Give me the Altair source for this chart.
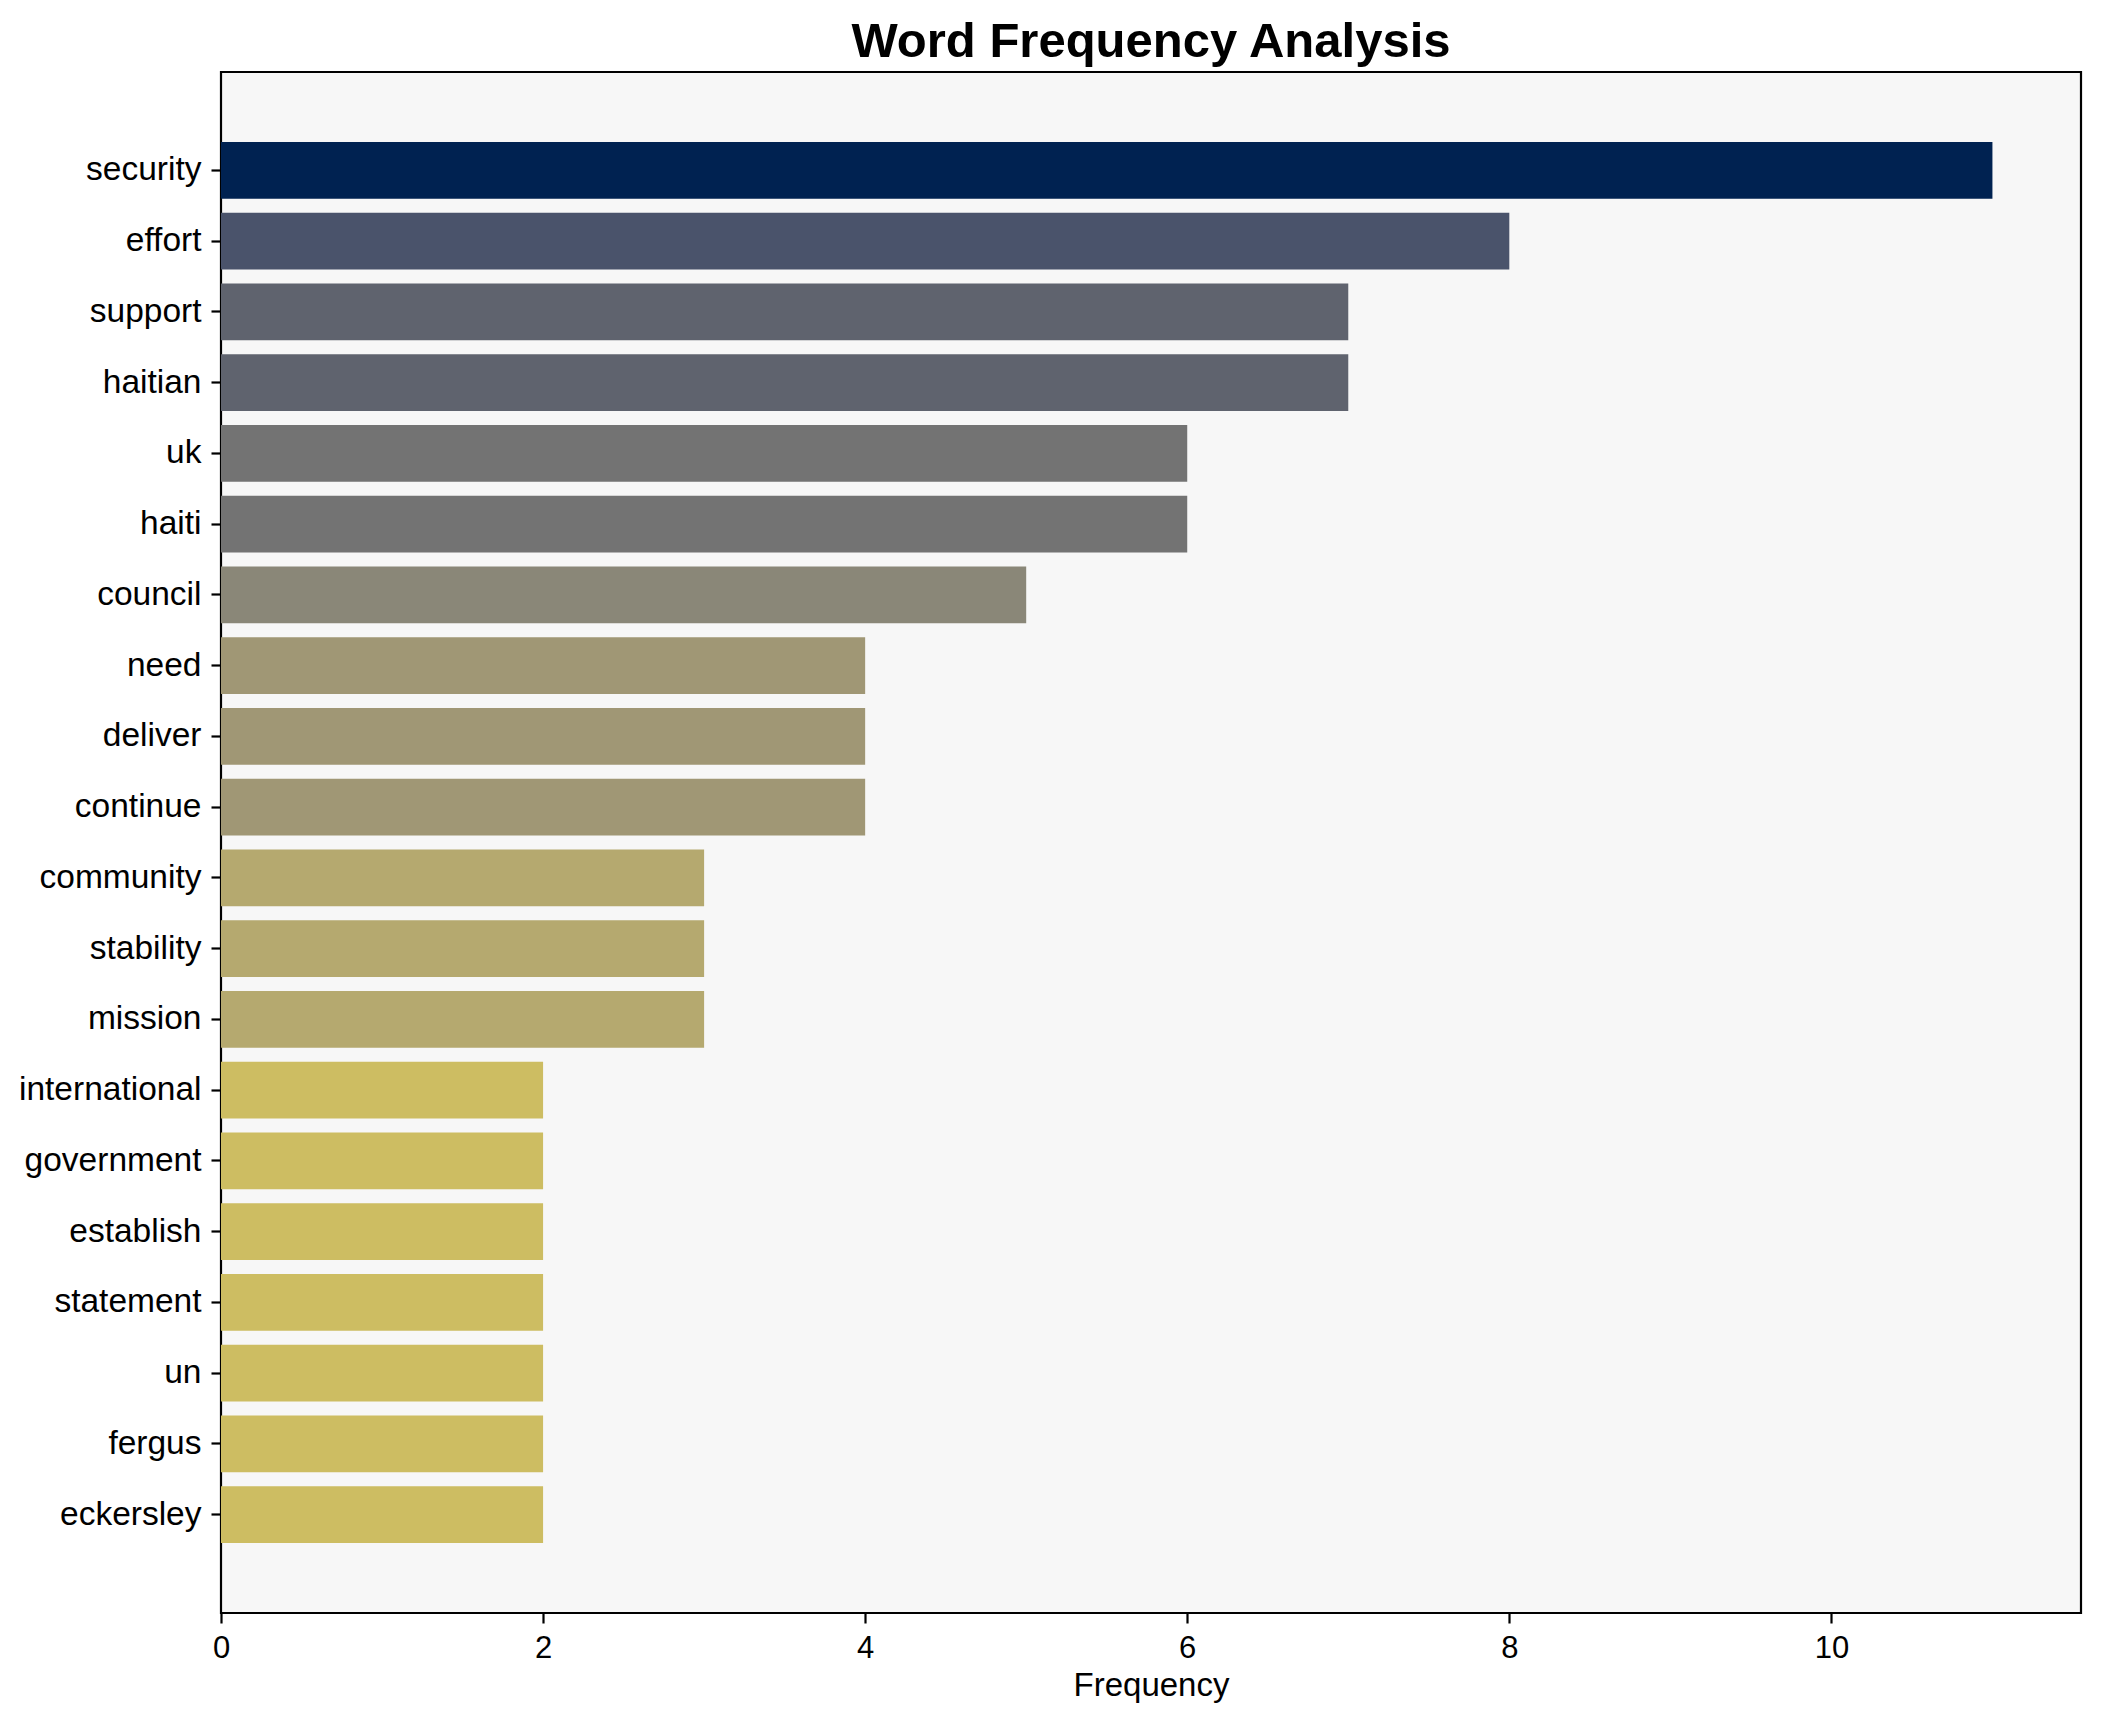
import altair as alt
import pandas as pd

words = ["security", "effort", "support", "haitian", "uk", "haiti", "council",
         "need", "deliver", "continue", "community", "stability", "mission",
         "international", "government", "establish", "statement", "un",
         "fergus", "eckersley"]
freqs = [11, 8, 7, 7, 6, 6, 5, 4, 4, 4, 3, 3, 3, 2, 2, 2, 2, 2, 2, 2]

color_domain = [11, 8, 7, 6, 5, 4, 3, 2]
color_range = ["#002251", "#4a536b", "#5f636e", "#737373", "#8a8778",
               "#a09775", "#b5a96f", "#cdbd62"]

df = pd.DataFrame({"word": words, "freq": freqs})

FONT = "Liberation Sans"

chart = alt.Chart(df).mark_bar().encode(
    y=alt.Y("word:N", sort=words, title=None,
            scale=alt.Scale(paddingInner=0.2, paddingOuter=0.99),
            axis=alt.Axis(labelFontSize=33.5, labelFont=FONT, labelColor="black",
                          tickSize=10, tickWidth=2.2, tickColor="black",
                          labelPadding=10, labelLimit=400,
                          domain=False, grid=False)),
    x=alt.X("freq:Q", title="Frequency",
            scale=alt.Scale(domain=[0, 11.55], nice=False, zero=True),
            axis=alt.Axis(values=[0, 2, 4, 6, 8, 10], labelFontSize=31,
                          labelFont=FONT, labelColor="black", tickSize=10,
                          tickWidth=2.2, tickColor="black", labelPadding=10,
                          labelFlush=False,
                          domain=False, grid=False, titleFont=FONT,
                          titleFontSize=33, titleFontWeight="normal",
                          titleColor="black", titlePadding=6)),
    color=alt.Color("freq:O", legend=None,
                    scale=alt.Scale(domain=color_domain, range=color_range)),
).properties(
    width=1860,
    height=1541,
    background="white",
    title=alt.TitleParams("Word Frequency Analysis", font=FONT, fontSize=49,
                          fontWeight="bold", color="black", anchor="middle",
                          offset=5),
    autosize=alt.AutoSizeParams(type="none"),
    padding={"left": 213, "top": 64, "right": 12, "bottom": 100},
).configure_view(
    fill="#f7f7f7", stroke="black", strokeWidth=2.2
)

chart.save("out.html", embed_options={"renderer": "svg", "actions": False})
